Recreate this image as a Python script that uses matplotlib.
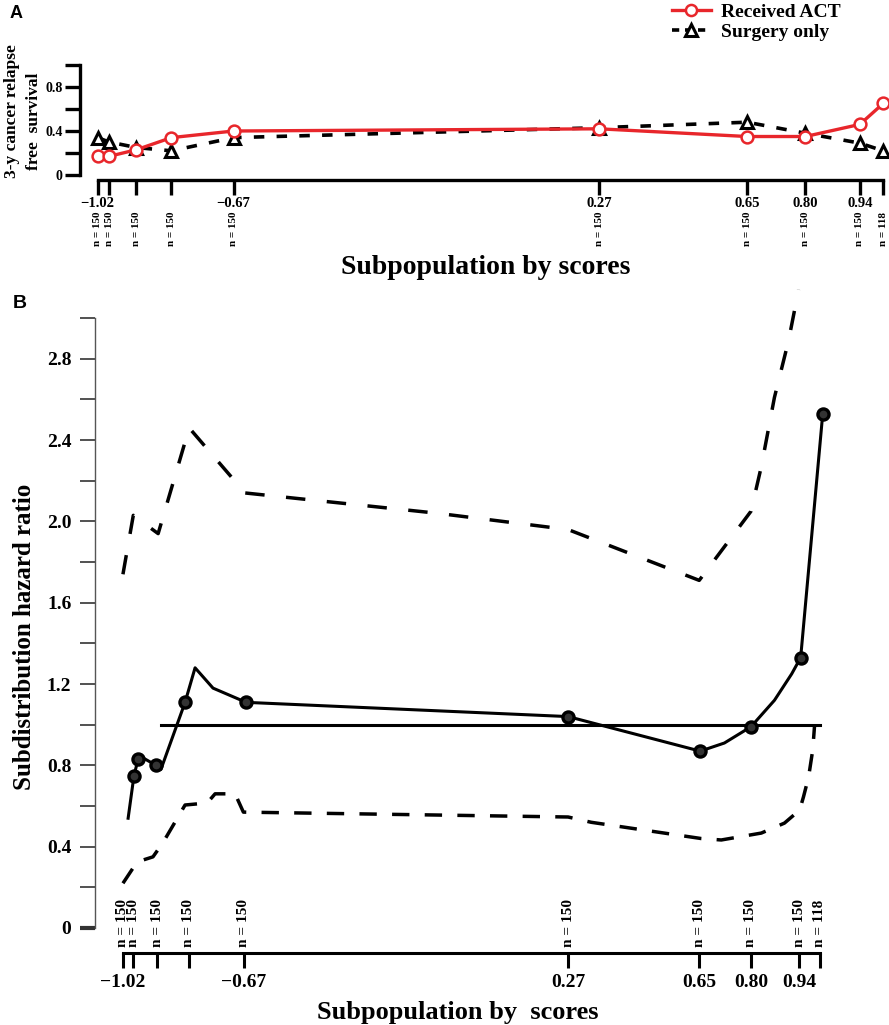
import matplotlib
matplotlib.use("Agg")
import matplotlib.pyplot as plt
from matplotlib.lines import Line2D
from matplotlib.ticker import FixedLocator

W, H = 889, 1025
SERIF = "Liberation Serif"
RED = "#e8262b"

# subpopulation median scores, shared by both panels
score_ticks = [-1.02, -0.99, -0.92, -0.83, -0.67, 0.27, 0.65, 0.80, 0.94, 1.00]
score_labels = ["\u22121.02", "", "", "", "\u22120.67", "0.27", "0.65", "0.80", "0.94", ""]
n_sizes = [150, 150, 150, 150, 150, 150, 150, 150, 150, 118]

# panel A: 3-y cancer relapse free survival per subpopulation
surv_act = [0.17, 0.17, 0.23, 0.34, 0.40, 0.42, 0.35, 0.35, 0.46, 0.65]
surv_surgery = [0.34, 0.30, 0.25, 0.22, 0.34, 0.43, 0.48, 0.38, 0.29, 0.22]

# panel B: subdistribution hazard ratio curve
hr_curve_x = [-1.005, -0.988, -0.976, -0.965, -0.924, -0.91, -0.84, -0.811, -0.759,
              -0.663, 0.27, 0.653, 0.723, 0.80, 0.868, 0.918, 0.944, 1.008]
hr_curve_y = [0.54, 0.75, 0.83, 0.84, 0.80, 0.78, 1.11, 1.28, 1.18,
              1.11, 1.04, 0.87, 0.91, 0.99, 1.12, 1.25, 1.33, 2.53]
hr_pts_x = [-0.988, -0.976, -0.924, -0.84, -0.663, 0.27, 0.653, 0.80, 0.944, 1.008]
hr_pts_y = [0.75, 0.83, 0.80, 1.11, 1.11, 1.04, 0.87, 0.99, 1.33, 2.53]

upper_x = [-1.02, -0.99, -0.918, -0.828, -0.666, -0.108, 0.27, 0.65, 0.80,
           0.83, 0.868, 0.909, 0.938]
upper_y = [1.74, 2.03, 1.94, 2.46, 2.14, 2.04, 1.96, 1.71, 2.05,
           2.27, 2.61, 2.89, 3.14]
lower_x = [-1.02, -0.979, -0.933, -0.904, -0.84, -0.776, -0.753, -0.695, -0.671,
           0.27, 0.337, 0.656, 0.714, 0.83, 0.897, 0.941, 0.952, 0.967, 0.979, 0.984]
lower_y = [0.22, 0.325, 0.35, 0.42, 0.605, 0.615, 0.66, 0.66, 0.57,
           0.546, 0.52, 0.44, 0.433, 0.467, 0.516, 0.58, 0.644, 0.743, 0.876, 0.99]

ref_x = [-0.91, 1.00]
ref_y = [1.0, 1.0]


def fx(px):
    return px / W


def fy(py):
    return 1 - py / H


fig = plt.figure(figsize=(W / 100, H / 100), dpi=100)
bold = dict(family=SERIF, fontweight="bold")

# ---------------- panel A ----------------
axA = fig.add_axes([fx(80), fy(180), (W - 80) / W, (180 - 60) / H])
axA.plot(score_ticks, surv_surgery, color="black", lw=2.6, ls=(0, (2.9, 3.4)),
         marker="^", ms=9, mfc="white", mec="black", mew=2.2, clip_on=False, zorder=3)
axA.plot(score_ticks, surv_act, color=RED, lw=2.4,
         marker="o", ms=8.5, mfc="white", mec=RED, mew=1.8, clip_on=False, zorder=4)
axA.set_xlim(-1.065, 1.015)
axA.set_ylim(-0.045, 1.045)
for s in ("top", "right"):
    axA.spines[s].set_visible(False)
axA.spines["left"].set_bounds(0, 1.0)
axA.spines["bottom"].set_bounds(score_ticks[0], score_ticks[-1])
for s in ("left", "bottom"):
    axA.spines[s].set_linewidth(2.4)
axA.set_xticks(score_ticks)
axA.set_xticklabels(score_labels, fontsize=10.5, **bold)
axA.yaxis.set_major_locator(FixedLocator([0, 0.4, 0.8]))
axA.yaxis.set_minor_locator(FixedLocator([0.2, 0.6, 1.0]))
axA.set_yticklabels(["0", "0.4", "0.8"], fontsize=10, **bold)
axA.tick_params(axis="x", length=11, width=2.4, pad=1)
axA.tick_params(axis="y", which="both", length=11, width=2.4, pad=1.5)
for x, n in zip(score_ticks, n_sizes):
    axA.annotate(f"n = {n}", xy=(x, 0), xycoords=("data", "axes fraction"),
                 xytext=(0, -23), textcoords="offset points", rotation=90,
                 ha="center", va="top", fontsize=8, annotation_clip=False, **bold)

fig.text(fx(486), fy(268), "Subpopulation by scores", ha="center", va="center",
         fontsize=20, **bold)
fig.text(fx(12), fy(111), "3-y cancer relapse", rotation=90, ha="center", va="center",
         fontsize=12.5, **bold)
fig.text(fx(34), fy(121), "free  survival", rotation=90, ha="center", va="center",
         fontsize=12.5, **bold)
fig.text(fx(16), fy(13), "A", ha="center", va="center", fontsize=13,
         family="Liberation Sans", fontweight="bold")

handles = [
    Line2D([], [], color=RED, lw=2.4, marker="o", ms=8, mfc="white", mec=RED, mew=1.8),
    Line2D([], [], color="black", lw=2.6, ls=(0, (2.0, 1.6)), marker="^", ms=9,
           mfc="white", mec="black", mew=2.2),
]
fig.legend(handles, ["Received ACT", "Surgery only"], loc="upper left",
           bbox_to_anchor=(fx(672), fy(3)), frameon=False, borderpad=0,
           borderaxespad=0, handlelength=2.0, handletextpad=0.5, labelspacing=0.15,
           prop=dict(family=SERIF, weight="bold", size=14))

# ---------------- panel B ----------------
axB = fig.add_axes([fx(95), fy(953), (W - 95) / W, (953 - 285) / H])
axB.plot(upper_x, upper_y, color="black", lw=2.5, ls=(0, (5.6, 6.2)))
axB.plot(lower_x, lower_y, color="black", lw=2.5, ls=(0, (5.0, 4.4)))
axB.plot(ref_x, ref_y, color="black", lw=2.2)
axB.plot(hr_curve_x, hr_curve_y, color="black", lw=2.2)
axB.plot(hr_pts_x, hr_pts_y, ls="none", marker="o", ms=8, mfc="#333333",
         mec="black", mew=2.4, zorder=4)
axB.set_xlim(-1.101, 1.20)
axB.set_ylim(-0.123, 3.163)
for s in ("top", "right"):
    axB.spines[s].set_visible(False)
axB.spines["left"].set_bounds(0, 3.0)
axB.spines["left"].set_linewidth(1.0)
axB.spines["left"].set_color("#555555")
axB.spines["bottom"].set_bounds(score_ticks[0], score_ticks[-1])
axB.spines["bottom"].set_linewidth(2.2)
axB.set_xticks(score_ticks)
axB.set_xticklabels(score_labels, fontsize=14, **bold)
major_y = [0, 0.4, 0.8, 1.2, 1.6, 2.0, 2.4, 2.8]
axB.yaxis.set_major_locator(FixedLocator(major_y))
axB.yaxis.set_minor_locator(FixedLocator([0.2, 0.6, 1.0, 1.4, 1.8, 2.2, 2.6, 3.0]))
axB.set_yticklabels(["0", "0.4", "0.8", "1.2", "1.6", "2.0", "2.4", "2.8"],
                    fontsize=14, **bold)
axB.tick_params(axis="x", length=11, width=2.2, pad=4)
axB.tick_params(axis="y", which="both", length=11, width=1.2, color="#333333", pad=6)
axB.yaxis.get_major_ticks()[0].tick1line.set_markeredgewidth(3)
axB.yaxis.get_major_ticks()[0].tick1line.set_color("black")
for x, n in zip(score_ticks, n_sizes):
    axB.annotate(f"n = {n}", xy=(x, 0), xycoords=("data", "axes fraction"),
                 xytext=(0, 4), textcoords="offset points", rotation=90,
                 ha="center", va="bottom", fontsize=11, **bold)

fig.text(fx(458), fy(1012), "Subpopulation by  scores", ha="center", va="center",
         fontsize=19, **bold)
fig.text(fx(25), fy(637), "Subdistribution hazard ratio", rotation=90,
         ha="center", va="center", fontsize=18, **bold)
fig.text(fx(20), fy(304), "B", ha="center", va="center", fontsize=14,
         family="Liberation Sans", fontweight="bold")

fig.savefig("out.png", dpi=100)
